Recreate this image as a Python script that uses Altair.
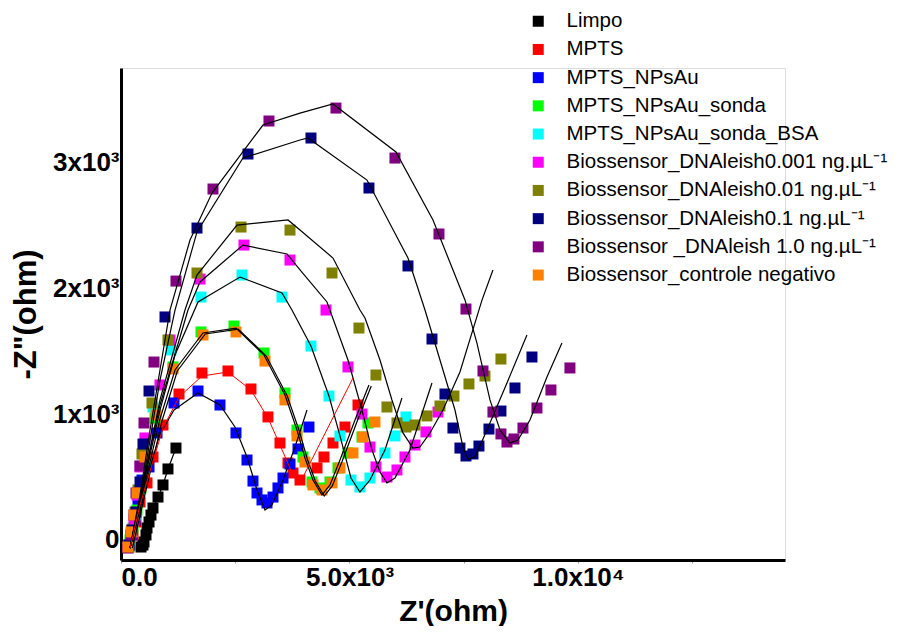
import altair as alt
import pandas as pd

series_names = [
    "Limpo", "MPTS", "MPTS_NPsAu", "MPTS_NPsAu_sonda", "MPTS_NPsAu_sonda_BSA",
    "Biossensor_DNAleish0.001 ng.µL⁻¹", "Biossensor_DNAleish0.01 ng.µL⁻¹",
    "Biossensor_DNAleish0.1 ng.µL⁻¹", "Biossensor _DNAleish 1.0 ng.µL⁻¹",
    "Biossensor_controle negativo",
]
colors = ["#000000", "#FF0000", "#0000FF", "#00FF00", "#00FFFF",
          "#FF00FF", "#808000", "#000080", "#800080", "#FF8000"]

# ---- measured points (Z', -Z'') ----
limpo_x = [438, 481, 503, 547, 569, 613, 656, 700, 810, 919, 1028, 1203]
limpo_y = [-56, -40, -16, 40, 95, 143, 198, 254, 341, 437, 564, 730]

mpts_x = [197, 263, 328, 416, 569, 700, 919, 1269, 1772, 2341, 2844, 3216, 3479, 3654, 3763, 3917, 4289, 4442, 4639, 4901, 5186]
mpts_y = [-40, 40, 143, 302, 453, 659, 913, 1159, 1326, 1342, 1199, 977, 770, 611, 532, 476, 572, 659, 770, 897, 1072]

npsau_x = [175, 241, 306, 372, 459, 613, 788, 1160, 1685, 2166, 2516, 2757, 2888, 2976, 3085, 3194, 3326, 3435, 3545, 3698, 3873, 4113]
npsau_y = [-40, 40, 159, 318, 476, 580, 850, 1088, 1183, 1072, 850, 635, 468, 373, 318, 294, 341, 413, 492, 603, 723, 897]

sonda_x = [197, 263, 350, 438, 525, 744, 1138, 1750, 2472, 3129, 3588, 3851, 3982, 4179, 4354, 4573, 4748, 4967, 5273, 5404]
sonda_y = [0, 95, 238, 413, 635, 969, 1374, 1652, 1699, 1485, 1167, 873, 659, 461, 413, 461, 572, 691, 818, 929]

bsa_x = [175, 241, 306, 394, 525, 700, 1094, 1750, 2647, 3523, 4157, 4551, 4792, 5032, 5229, 5448, 5776, 5995, 6236]
bsa_y = [-56, 64, 198, 397, 794, 1056, 1509, 1929, 2104, 1929, 1540, 1143, 826, 476, 421, 492, 691, 826, 977]

d0001_x = [153, 219, 284, 350, 416, 525, 853, 1072, 1729, 2691, 3698, 4486, 4967, 5273, 5448, 5579, 5820, 6039, 6214, 6433, 6673, 6936]
d0001_y = [-56, 40, 159, 357, 580, 810, 1231, 1588, 2072, 2342, 2223, 1826, 1374, 1000, 738, 580, 500, 556, 659, 754, 858, 1016]

d001_x = [175, 241, 306, 372, 459, 678, 1028, 1663, 2626, 3698, 4617, 5207, 5579, 5820, 6039, 6236, 6433, 6695, 6980, 7286, 7614, 7964, 8314]
d001_y = [-56, 79, 222, 397, 683, 1088, 1588, 2120, 2485, 2461, 2120, 1683, 1310, 1056, 929, 897, 913, 985, 1064, 1143, 1239, 1302, 1437]

d01_x = [175, 241, 328, 416, 481, 613, 963, 1663, 2779, 4157, 5426, 6280, 6805, 7089, 7264, 7417, 7549, 7702, 7833, 8052, 8314, 8621, 8993]
d01_y = [-40, 79, 222, 461, 762, 1183, 1771, 2477, 3065, 3192, 2795, 2176, 1596, 1159, 889, 730, 667, 683, 746, 881, 1024, 1207, 1453]

d10_x = [153, 219, 284, 328, 416, 503, 722, 1203, 2013, 3238, 4704, 5995, 6958, 7549, 7921, 8139, 8314, 8446, 8599, 8796, 9102, 9408, 9824]
d10_y = [-64, 40, 198, 373, 588, 929, 1413, 2056, 2787, 3327, 3430, 3033, 2430, 1834, 1342, 1016, 842, 778, 802, 889, 1048, 1191, 1366]

neg_x = [153, 219, 284, 350, 525, 766, 1138, 1794, 2516, 3151, 3588, 3851, 4026, 4201, 4398, 4617, 4792, 5076, 5295, 5557]
neg_y = [-56, 64, 198, 373, 659, 993, 1358, 1628, 1652, 1421, 1112, 826, 619, 437, 397, 453, 572, 691, 818, 937]

# ---- fitted curves ----
fit_mpts_x = [197, 416, 656, 919, 1269, 1772, 2341, 2844, 3216, 3479, 3763, 3917, 5076]
fit_mpts_y = [-64, 278, 572, 889, 1135, 1302, 1334, 1191, 969, 754, 516, 453, 1286]

fit_npsau_x = [197, 416, 635, 853, 1160, 1685, 2166, 2494, 2757, 2976, 3151, 3304, 3545, 3807, 4070]
fit_npsau_y = [-64, 238, 572, 842, 1032, 1167, 1072, 897, 659, 397, 238, 278, 476, 738, 1032]

fit_sonda_x = [197, 416, 635, 853, 1182, 1794, 2516, 3129, 3588, 3851, 4026, 4201, 4398, 4573, 4792, 5120, 5426]
fit_sonda_y = [-64, 278, 619, 961, 1350, 1644, 1683, 1469, 1151, 873, 651, 476, 357, 437, 635, 953, 1231]

fit_neg_x = [247, 466, 685, 903, 1232, 1844, 2566, 3179, 3638, 3901, 4076, 4251, 4448, 4623, 4842, 5170, 5476]
fit_neg_y = [-64, 270, 611, 953, 1342, 1636, 1675, 1461, 1143, 865, 643, 468, 349, 429, 627, 945, 1223]

fit_bsa_x = [197, 416, 635, 853, 1182, 1685, 2604, 3523, 3741, 4157, 4551, 4792, 5032, 5229, 5448, 5776, 6148]
fit_bsa_y = [-64, 278, 675, 1032, 1469, 1890, 2088, 1961, 1826, 1540, 1143, 826, 492, 381, 476, 715, 1127]

fit_d0001_x = [197, 416, 635, 853, 1466, 1729, 2669, 3632, 3917, 4507, 4967, 5273, 5492, 5667, 5820, 5995, 6323, 6805]
fit_d0001_y = [-64, 318, 715, 1072, 1826, 2049, 2342, 2271, 2144, 1890, 1429, 1032, 715, 540, 453, 492, 715, 1247]

fit_d001_x = [197, 416, 635, 853, 1400, 1663, 2538, 3654, 3917, 4639, 5229, 5339, 5667, 5929, 6170, 6389, 6542, 6761, 7045, 7417, 7899, 8139]
fit_d001_y = [-64, 318, 715, 1112, 1826, 2104, 2501, 2541, 2461, 2239, 1826, 1763, 1429, 1112, 850, 730, 738, 850, 1032, 1334, 1905, 2144]

fit_d01_x = [197, 416, 635, 853, 1182, 1663, 2669, 3917, 4092, 5383, 6280, 6652, 6980, 7308, 7483, 7592, 7746, 8008, 8446, 8883]
fit_d01_y = [-64, 318, 794, 1270, 1826, 2446, 3033, 3176, 3192, 2858, 2239, 1826, 1429, 1032, 738, 643, 659, 873, 1247, 1628]

fit_d10_x = [197, 416, 635, 853, 1072, 1510, 1991, 3107, 3917, 4639, 6017, 6827, 7527, 7789, 8074, 8293, 8511, 8686, 8949, 9321, 9649]
fit_d10_y = [-64, 357, 873, 1350, 1826, 2382, 2755, 3295, 3390, 3462, 3081, 2541, 1906, 1564, 1112, 873, 770, 794, 953, 1294, 1564]

point_sets = [
    (limpo_x, limpo_y), (mpts_x, mpts_y), (npsau_x, npsau_y), (sonda_x, sonda_y),
    (bsa_x, bsa_y), (d0001_x, d0001_y), (d001_x, d001_y), (d01_x, d01_y),
    (d10_x, d10_y), (neg_x, neg_y),
]
rows = []
for name, (xs, ys) in zip(series_names, point_sets):
    for x, y in zip(xs, ys):
        rows.append({"series": name, "x": x, "y": y})
pts = pd.DataFrame(rows)

black_fits = {
    "limpo": (limpo_x, limpo_y),
    "npsau": (fit_npsau_x, fit_npsau_y),
    "sonda": (fit_sonda_x, fit_sonda_y),
    "neg": (fit_neg_x, fit_neg_y),
    "bsa": (fit_bsa_x, fit_bsa_y),
    "d0001": (fit_d0001_x, fit_d0001_y),
    "d001": (fit_d001_x, fit_d001_y),
    "d01": (fit_d01_x, fit_d01_y),
    "d10": (fit_d10_x, fit_d10_y),
}
frows = []
for name, (xs, ys) in black_fits.items():
    for i, (x, y) in enumerate(zip(xs, ys)):
        frows.append({"fit": name, "x": x, "y": y, "i": i})
fits = pd.DataFrame(frows)
red = pd.DataFrame({"x": fit_mpts_x, "y": fit_mpts_y, "i": list(range(len(fit_mpts_x)))})

FONT = "Liberation Sans"

xenc = alt.X(
    "x:Q",
    scale=alt.Scale(domain=[0, 14530], nice=False, zero=False),
    axis=alt.Axis(
        values=[0, 2500, 5000, 7500, 10000, 12500],
        labelExpr="datum.value == 0 ? '0.0' : datum.value == 5000 ? '5.0x10³' : datum.value == 10000 ? '1.0x10⁴' : ''",
        labelFont=FONT, labelFontSize=26, labelFontWeight="bold", labelColor="black",
        labelPadding=1, tickSize=3, tickColor="#999999", tickWidth=1,
        domainColor="black", domainWidth=3, grid=False,
        title="Z'(ohm)", titleFont=FONT, titleFontSize=30, titleFontWeight="bold",
        titleColor="black", titlePadding=6,
    ),
)
yenc = alt.Y(
    "y:Q",
    scale=alt.Scale(domain=[-159, 3748], nice=False, zero=False),
    axis=alt.Axis(
        values=[0, 1000, 2000, 3000],
        labelExpr="datum.value == 0 ? '0' : datum.value == 1000 ? '1x10³' : datum.value == 2000 ? '2x10³' : '3x10³'",
        labelFont=FONT, labelFontSize=26, labelFontWeight="bold", labelColor="black",
        labelPadding=2, ticks=False, domainColor="black", domainWidth=3, grid=False,
        title='-Z"(ohm)', titleFont=FONT, titleFontSize=31, titleFontWeight="bold",
        titleColor="black", titlePadding=10,
    ),
)

points = alt.Chart(pts).mark_square(size=121, opacity=1, strokeWidth=0).encode(
    x=xenc,
    y=yenc,
    color=alt.Color(
        "series:N",
        scale=alt.Scale(domain=series_names, range=colors),
        legend=alt.Legend(
            orient="none", legendX=407, legendY=-57, padding=0, title=None,
            symbolType="square", symbolSize=121, symbolStrokeWidth=0,
            labelFont=FONT, labelFontSize=20.5, labelColor="black",
            labelOffset=18, rowPadding=7.2, labelLimit=0,
        ),
    ),
)

black_lines = alt.Chart(fits).mark_line(color="black", strokeWidth=1.2).encode(
    x="x:Q", y="y:Q", detail="fit:N", order="i:Q"
)
red_line = alt.Chart(red).mark_line(color="#FF0000", strokeWidth=1).encode(
    x="x:Q", y="y:Q", order="i:Q"
)

chart = alt.layer(points, black_lines, red_line).properties(
    width=664, height=492,
    autosize=alt.AutoSizeParams(type="none"),
    padding={"left": 113, "top": 60, "right": 108, "bottom": 66},
).configure_view(stroke=None).configure(font=FONT)

chart.save("out.html", embed_options={"renderer": "svg", "actions": False})
